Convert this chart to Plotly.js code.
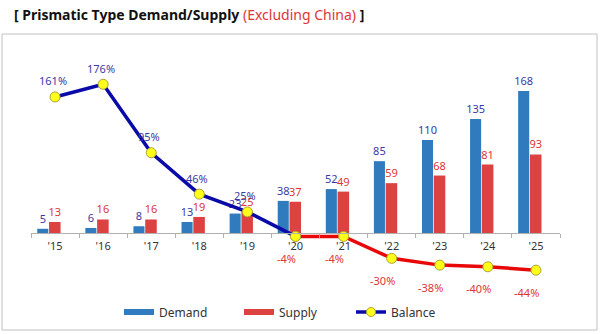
<!DOCTYPE html>
<html>
<head>
<meta charset="utf-8">
<script src="https://cdn.plot.ly/plotly-3.0.1.min.js"></script>
<style>
html,body{margin:0;padding:0;background:#fff;}
#chart{width:600px;height:334px;}
</style>
</head>
<body>
<div id="chart"></div>
<script>
// ---- data ----
const years = ["'15","'16","'17","'18","'19","'20","'21","'22","'23","'24","'25"];
const demand = [5, 6, 8, 13, 23, 38, 52, 85, 110, 135, 168];
const supply = [13, 16, 16, 19, 25, 37, 49, 59, 68, 81, 93];
const balance = [161, 176, 95, 46, 25, -4, -4, -30, -38, -40, -44];

// ---- layout geometry ----
const W = 600, H = 334;
const mL = 31, mR = 40, mT = 40, mB = 49;
const plotW = W - mL - mR, plotH = H - mT - mB;
const px = 0.845;              // pixels per unit
const zeroY = 233;             // baseline pixel
const yTop = (zeroY - mT) / px;
const yBot = -((H - mB) - zeroY) / px;
const axisPos = ((H - mB) - zeroY) / plotH;
const fx = p => (p - mL) / plotW;
const fy = p => ((H - mB) - p) / plotH;

const FONT = 'Noto Sans, sans-serif';
const colDemand = '#2f7bbd';
const colSupply = '#dc4242';
const colBlue = '#0a0aa8';
const colRed = '#e80808';
const labBlue = '#3a3aa6';
const labRed = '#e03535';
const mk = {color: '#ffff1a', size: 10, line: {color: '#b0a030', width: 1}};

// split balance into positive (blue) and negative (red) segments
const firstNeg = balance.findIndex(v => v < 0);
const blueX = years.slice(0, firstNeg + 1);
const blueY = balance.slice(0, firstNeg + 1);
const redX = years.slice(firstNeg);
const redY = balance.slice(firstNeg);

const traces = [
  {
    type: 'bar', name: 'Demand', x: years, y: demand, showlegend: false, legendgroup: 'd',
    marker: {color: colDemand},
    offset: -0.37, width: 0.23,
    text: demand.map(String), textposition: 'outside', constraintext: 'none',
    textfont: {family: FONT, size: 11, color: labBlue},
    cliponaxis: false, hoverinfo: 'x+y'
  },
  {
    type: 'bar', name: 'Supply', x: years, y: supply, showlegend: false, legendgroup: 's',
    marker: {color: colSupply},
    offset: -0.125, width: 0.24,
    text: supply.map(String), textposition: 'outside', constraintext: 'none',
    textfont: {family: FONT, size: 11, color: labRed},
    cliponaxis: false, hoverinfo: 'x+y'
  },
  {
    type: 'scatter', mode: 'lines+markers', name: 'Balance',
    x: redX, y: redY, showlegend: false, legendgroup: 'b',
    line: {color: colRed, width: 3.5}, marker: mk, cliponaxis: false
  },
  {
    type: 'scatter', mode: 'lines+markers', name: 'Balance',
    x: blueX, y: blueY, showlegend: false, legendgroup: 'b',
    line: {color: colBlue, width: 3.5}, marker: mk, cliponaxis: false
  },
  // legend entries (no data)
  {type: 'scatter', mode: 'lines', name: 'Demand', x: [null], y: [null], legend: 'legend',
   legendgroup: 'd', line: {color: colDemand, width: 6}},
  {type: 'scatter', mode: 'lines', name: 'Supply', x: [null], y: [null], legend: 'legend2',
   legendgroup: 's', line: {color: colSupply, width: 6}},
  {type: 'scatter', mode: 'lines+markers', name: 'Balance', x: [null], y: [null], legend: 'legend3',
   legendgroup: 'b', line: {color: colBlue, width: 3.5}, marker: {color: '#ffff1a', size: 9, line: {color: '#b0a030', width: 1}}}
];

// balance labels
const annotations = years.map((yr, i) => {
  const v = balance[i];
  const neg = v < 0;
  return {
    x: yr, y: v, xref: 'x', yref: 'y',
    text: v + '%', showarrow: false,
    xshift: neg ? -9 : -2, yshift: neg ? -22 : 16,
    font: {family: FONT, size: 11, color: neg ? labRed : labBlue}
  };
});

const legendBase = {
  orientation: 'h', xanchor: 'left', yanchor: 'middle', y: fy(312),
  font: {family: FONT, size: 12, color: '#333'},
  bgcolor: 'rgba(0,0,0,0)', itemwidth: 30
};

const layout = {
  width: W, height: H,
  margin: {l: mL, r: mR, t: mT, b: mB, pad: 0, autoexpand: false},
  paper_bgcolor: '#ffffff', plot_bgcolor: 'rgba(0,0,0,0)',
  barmode: 'overlay',
  title: {
    text: "<b>[ Prismatic Type Demand/Supply </b><span style='color:#e03535'>(Excluding China)</span><b> ]</b>",
    x: 14 / W, xref: 'container', xanchor: 'left',
    y: 1 - 15 / H, yref: 'container', yanchor: 'middle',
    font: {family: FONT, size: 14, color: '#111'}
  },
  xaxis: {
    type: 'category', anchor: 'free', position: axisPos,
    range: [-0.5, years.length - 0.5], autorange: false,
    showline: true, linecolor: '#b0b0b0', linewidth: 1,
    ticks: 'outside', tickson: 'boundaries', ticklen: 4, tickcolor: '#b0b0b0',
    ticklabelstandoff: 3,
    showgrid: false, zeroline: false,
    tickfont: {family: FONT, size: 11, color: '#333'}
  },
  yaxis: {
    range: [yBot, yTop], autorange: false, visible: false, showgrid: false, zeroline: false
  },
  legend: Object.assign({}, legendBase, {x: fx(119)}),
  legend2: Object.assign({}, legendBase, {x: fx(239)}),
  legend3: Object.assign({}, legendBase, {x: fx(351)}),
  annotations: annotations,
  shapes: [{
    type: 'rect', xref: 'paper', yref: 'paper',
    x0: fx(2), x1: fx(597), y0: fy(330), y1: fy(34),
    line: {color: '#c0c0c0', width: 1}, fillcolor: 'rgba(0,0,0,0)', layer: 'below'
  }],
  showlegend: true
};

Plotly.newPlot('chart', traces, layout, {displayModeBar: false, staticPlot: true});
</script>
</body>
</html>
